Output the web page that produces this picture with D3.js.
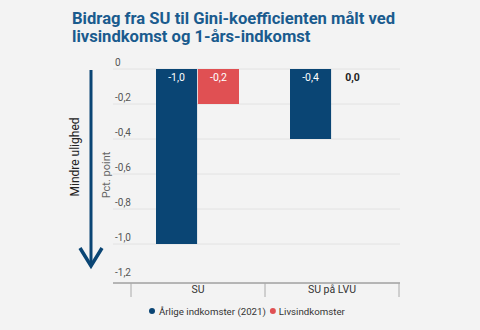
<!DOCTYPE html>
<html><head><meta charset="utf-8">
<script src="https://cdn.jsdelivr.net/npm/d3@7"></script>
<style>
html,body{margin:0;padding:0;background:#f3f3f3;}
svg{display:block;font-family:Roboto,"Noto Sans",sans-serif;}
</style></head>
<body><svg id="c" width="480" height="330"></svg>
<script>
const categories = ["SU", "SU på LVU"];
const seriesNames = ["Årlige indkomster (2021)", "Livsindkomster"];
const annualValues = [-1.0, -0.4];
const lifetimeValues = [-0.2, 0.0];
const yTicks = [0, -0.2, -0.4, -0.6, -0.8, -1.0, -1.2];
const colors = ["#0a4574", "#e05053"];

const svg = d3.select("#c");
svg.append("rect").attr("width",480).attr("height",330).attr("fill","#f3f3f3");

const fmt = v => d3.format(".1f")(v).replace(".", ",").replace("−","-");

// title
svg.append("text").attr("x",72).attr("y",24).attr("fill","#1a5b8e")
  .attr("font-size",16.6).attr("font-weight",700).text("Bidrag fra SU til Gini-koefficienten målt ved");
svg.append("text").attr("x",72).attr("y",42).attr("fill","#1a5b8e")
  .attr("font-size",16.6).attr("font-weight",700).text("livsindkomst og 1-års-indkomst");

const y = d3.scaleLinear().domain([0,-1.2]).range([69,279]);
const x0 = d3.scaleBand().domain(categories).range([131,399]);
const x1 = d3.scaleBand().domain(seriesNames).range([25,25+83]).paddingInner(0.02);

// gridlines + labels
const g = svg.append("g");
yTicks.forEach(t => {
  if (t > -1.2) g.append("line").attr("x1",113).attr("x2",400).attr("y1",y(t)).attr("y2",y(t))
    .attr("stroke","#e2e2e2").attr("stroke-width",1);
  g.append("text").attr("x",115).attr("y",y(t)-3).attr("font-size",10).attr("fill","#555")
    .text(t===0?"0":fmt(t));
});

// bars
const data = categories.map((c,i)=>({cat:c, vals:[annualValues[i], lifetimeValues[i]]}));
data.forEach(d => {
  d.vals.forEach((v,j) => {
    const bx = x0(d.cat) + x1(seriesNames[j]);
    const bw = x1.bandwidth();
    if (v !== 0) {
      svg.append("rect").attr("x",bx).attr("y",y(0)).attr("width",bw)
        .attr("height",y(v)-y(0)).attr("fill",colors[j]);
    }
    svg.append("text").attr("x",bx+bw/2).attr("y",y(0)+12).attr("text-anchor","middle")
      .attr("font-size",10.5)
      .attr("fill", v===0 ? "#222" : "#fff").attr("font-weight", v===0?700:400)
      .text(fmt(v));
  });
});

// x axis
const xa = svg.append("g");
xa.append("line").attr("x1",113).attr("x2",400).attr("y1",283).attr("y2",283).attr("stroke","#777").attr("stroke-width",1);
const tickXs = categories.map(c=>x0(c)).concat([x0.range()[1]]);
tickXs.forEach(tx => xa.append("line").attr("x1",tx).attr("x2",tx).attr("y1",283).attr("y2",297).attr("stroke","#aaa"));
categories.forEach(c => xa.append("text").attr("x",x0(c)+x0.bandwidth()/2).attr("y",293)
  .attr("text-anchor","middle").attr("font-size",10.5).attr("fill","#333").text(c));

// y axis title
svg.append("text").attr("transform","translate(110,175) rotate(-90)").attr("text-anchor","middle")
  .attr("font-size",11).attr("fill","#666").text("Pct. point");

// arrow
svg.append("line").attr("x1",91).attr("x2",91).attr("y1",70).attr("y2",266)
  .attr("stroke","#0a4574").attr("stroke-width",3);
svg.append("path").attr("d","M80,248 L91,266 L102,248").attr("fill","none")
  .attr("stroke","#0a4574").attr("stroke-width",3.5);
svg.append("text").attr("transform","translate(79,157) rotate(-90)").attr("text-anchor","middle")
  .attr("font-size",12).attr("fill","#222").text("Mindre ulighed");

// legend
const leg = svg.append("g");
leg.append("circle").attr("cx",152).attr("cy",311).attr("r",3).attr("fill",colors[0]);
const t1 = leg.append("text").attr("x",159).attr("y",315).attr("font-size",9.7).attr("fill","#333").text(seriesNames[0]);
const end1 = 159 + t1.node().getComputedTextLength();
leg.append("circle").attr("cx",end1+7).attr("cy",311).attr("r",3).attr("fill",colors[1]);
leg.append("text").attr("x",end1+13).attr("y",315).attr("font-size",9.7).attr("fill","#333").text(seriesNames[1]);
</script></body></html>
